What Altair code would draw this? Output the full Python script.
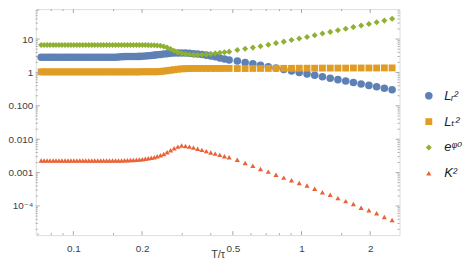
import altair as alt
import pandas as pd

# ---------------- data ----------------
T = [0.0722, 0.0744, 0.0767, 0.0790, 0.0815, 0.0839, 0.0865, 0.0891, 0.0919, 0.0947,
     0.0975, 0.1005, 0.1036, 0.1067, 0.1100, 0.1133, 0.1168, 0.1204, 0.1240, 0.1278,
     0.1317, 0.1357, 0.1399, 0.1441, 0.1485, 0.1531, 0.1577, 0.1625, 0.1675, 0.1726,
     0.1779, 0.1833, 0.1889, 0.1946, 0.2006, 0.2067, 0.2130, 0.2195, 0.2262, 0.2331,
     0.2408, 0.2489, 0.2575, 0.2667, 0.2765, 0.2870, 0.2980, 0.3099, 0.3226, 0.3361,
     0.3506, 0.3660, 0.3825, 0.4001, 0.4184, 0.4383, 0.4594, 0.4816,
     0.523, 0.566, 0.612, 0.661, 0.715, 0.773, 0.836, 0.904, 0.977, 1.057,
     1.142, 1.235, 1.336, 1.444, 1.562, 1.688, 1.825, 1.974, 2.134, 2.307, 2.495]

Lr2 = [2.85, 2.85, 2.85, 2.85, 2.85, 2.85, 2.85, 2.85, 2.85, 2.85,
       2.85, 2.85, 2.85, 2.85, 2.85, 2.85, 2.85, 2.85, 2.85, 2.85,
       2.85, 2.85, 2.85, 2.85, 2.85, 2.85, 2.90, 2.95, 2.98, 3.00,
       3.00, 3.01, 3.02, 3.03, 3.05, 3.10, 3.15, 3.22, 3.30, 3.38,
       3.47, 3.56, 3.65, 3.74, 3.80, 3.84, 3.85, 3.82, 3.75, 3.65,
       3.55, 3.43, 3.30, 3.12, 2.95, 2.72, 2.52, 2.36,
       2.21, 2.00, 1.81, 1.64, 1.49, 1.35, 1.22, 1.10, 1.00, 0.906,
       0.820, 0.743, 0.673, 0.609, 0.551, 0.499, 0.452, 0.410, 0.371, 0.336, 0.304]

Lt2 = [1.04, 1.04, 1.04, 1.04, 1.04, 1.04, 1.04, 1.04, 1.04, 1.04,
       1.04, 1.04, 1.04, 1.04, 1.04, 1.04, 1.04, 1.04, 1.04, 1.04,
       1.04, 1.04, 1.04, 1.04, 1.04, 1.04, 1.04, 1.04, 1.04, 1.04,
       1.04, 1.04, 1.04, 1.04, 1.05, 1.05, 1.05, 1.05, 1.05, 1.05,
       1.07, 1.10, 1.13, 1.17, 1.21, 1.25, 1.28, 1.30, 1.31, 1.32,
       1.32, 1.32, 1.32, 1.32, 1.32, 1.32, 1.32, 1.32,
       1.31, 1.31, 1.32, 1.32, 1.32, 1.33, 1.33, 1.33, 1.34, 1.34,
       1.34, 1.35, 1.35, 1.35, 1.35, 1.36, 1.36, 1.36, 1.36, 1.37, 1.37]

ephi0 = [6.6, 6.6, 6.6, 6.6, 6.6, 6.6, 6.6, 6.6, 6.6, 6.6,
         6.6, 6.6, 6.6, 6.6, 6.6, 6.6, 6.6, 6.6, 6.6, 6.6,
         6.6, 6.6, 6.6, 6.6, 6.6, 6.6, 6.6, 6.6, 6.6, 6.6,
         6.6, 6.6, 6.6, 6.6, 6.6, 6.6, 6.58, 6.55, 6.5, 6.45,
         6.3, 6.0, 5.55, 5.0, 4.45, 4.0, 3.75, 3.55, 3.45, 3.4,
         3.38, 3.4, 3.48, 3.6, 3.75, 3.9, 4.05, 4.2,
         4.7, 5.1, 5.55, 6.12, 6.78, 7.57, 8.38, 9.35, 10.4, 11.6,
         13.1, 14.7, 16.4, 18.4, 20.5, 22.8, 25.4, 28.3, 31.8, 35.7, 40.4]

K2 = [0.0023, 0.0023, 0.0023, 0.0023, 0.0023, 0.0023, 0.0023, 0.0023, 0.0023, 0.0023,
      0.0023, 0.0023, 0.0023, 0.0023, 0.0023, 0.0023, 0.0023, 0.0023, 0.0023, 0.0023,
      0.0023, 0.0023, 0.0023, 0.0023, 0.0023, 0.0023, 0.0023, 0.00232, 0.00234, 0.00236,
      0.00238, 0.0024, 0.00243, 0.00246, 0.0025, 0.0026, 0.0027, 0.0028, 0.0029, 0.0031,
      0.0033, 0.0036, 0.0041, 0.0047, 0.0054, 0.0060, 0.0065, 0.0063, 0.0060, 0.0056,
      0.0052, 0.0048, 0.0044, 0.0040, 0.0037, 0.0034, 0.0031, 0.0029,
      0.00242, 0.00193, 0.00161, 0.00128, 0.00107, 0.000869, 0.000708, 0.000588, 0.000492, 0.000410,
      0.000327, 0.000259, 0.000217, 0.000172, 0.000140, 0.000114, 0.0000892, 0.0000741, 0.0000604,
      0.0000469, 0.0000382]

series_names = ["Lᵣ²", "Lₜ²", "eᵠ⁰", "K²"]
series_values = [Lr2, Lt2, ephi0, K2]
series_colors = ["#5E81B5", "#E19C24", "#8FB032", "#EB6235"]
series_shapes = ["circle", "square", "diamond", "triangle-up"]
series_sizes = [58, 27, 85, 72]

x_major = [0.1, 0.2, 0.5, 1, 2]
x_major_labels = ["0.1", "0.2", "0.5", "1", "2"]
x_minor = [0.07, 0.08, 0.09, 0.15, 0.3, 0.4, 0.6, 0.7, 0.8, 0.9, 1.5]
y_major = [1e-4, 1e-3, 1e-2, 0.1, 1, 10]
y_major_labels = ["10⁻⁴", "0.001", "0.010", "0.100", "1", "10"]

X_DOMAIN = [0.0684, 2.69]
Y_DOMAIN = [1.34e-5, 78.9]
y_minor = [m * 10.0 ** k for k in range(-5, 2) for m in range(2, 10)]
y_minor = [v for v in y_minor if Y_DOMAIN[0] < v < Y_DOMAIN[1]]

# ---------------- build ----------------
rows = []
for name, vals in zip(series_names, series_values):
    for t, v in zip(T, vals):
        rows.append({"T": t, "v": v, "s": name})
df = pd.DataFrame(rows)

W, H = 367, 228
FRAME = "#a8a8a8"
TXT = "#404040"
FONT = "Liberation Sans, DejaVu Sans, Noto Sans"


def label_expr(values, labels):
    expr = "''"
    for val, lab in zip(values, labels):
        expr = f"abs(datum.value - {val!r}) < {val!r} * 1e-6 ? '{lab}' : ({expr})"
    return expr


xscale = alt.Scale(type="log", domain=X_DOMAIN, nice=False)
yscale = alt.Scale(type="log", domain=Y_DOMAIN, nice=False)

legend = alt.Legend(
    title=None, orient="none", legendX=390, legendY=81,
    symbolSize=40, labelFontSize=13, labelFont=FONT, labelFontStyle="italic",
    labelColor="#222222", rowPadding=12, labelOffset=9, padding=0,
    symbolStrokeWidth=0,
)

points = alt.Chart(df).mark_point(filled=True, opacity=1).encode(
    x=alt.X("T:Q", scale=xscale,
            axis=alt.Axis(orient="bottom", values=x_major,
                          labelExpr=label_expr(x_major, x_major_labels),
                          ticks=False, domain=False, grid=False,
                          labelFontSize=10, labelFont=FONT, labelColor=TXT, labelPadding=9,
                          title="T/τ", titleFontSize=11, titleFont=FONT, titleColor=TXT,
                          titleFontWeight="normal", titlePadding=-5)),
    y=alt.Y("v:Q", scale=yscale,
            axis=alt.Axis(orient="left", values=y_major,
                          labelExpr=label_expr(y_major, y_major_labels),
                          ticks=False, domain=False, grid=False,
                          labelFontSize=10, labelFont=FONT, labelColor=TXT, labelPadding=3,
                          title=None)),
    color=alt.Color("s:N", scale=alt.Scale(domain=series_names, range=series_colors), legend=legend),
    shape=alt.Shape("s:N", scale=alt.Scale(domain=series_names, range=series_shapes), legend=legend),
    size=alt.Size("s:N", scale=alt.Scale(domain=series_names, range=series_sizes), legend=None),
)


def yticks(vals, x0, x1):
    return alt.Chart(pd.DataFrame({"v": vals})).mark_rule(color=FRAME, strokeWidth=1).encode(
        y=alt.Y("v:Q", scale=yscale, axis=None), x=alt.value(x0), x2=alt.value(x1))


def xticks(vals, y0, y1):
    return alt.Chart(pd.DataFrame({"T": vals})).mark_rule(color=FRAME, strokeWidth=1).encode(
        x=alt.X("T:Q", scale=xscale, axis=None), y=alt.value(y0), y2=alt.value(y1))


layers = [
    points,
    yticks(y_major, 0, 4), yticks(y_minor, 0, 2),
    yticks(y_major, W, W - 4), yticks(y_minor, W, W - 2),
    xticks(x_major, H, H - 4), xticks(x_minor, H, H - 2),
    xticks(x_major, 0, 4), xticks(x_minor, 0, 2),
]

chart = alt.layer(*layers).resolve_axis(x="independent", y="independent").properties(
    width=W, height=H,
    autosize=alt.AutoSizeParams(type="none"),
    padding={"left": 28, "top": 0, "right": 65, "bottom": 30},
).configure_view(stroke=FRAME, strokeWidth=1).configure(background="white")

chart.save("out.html", embed_options={"renderer": "svg", "actions": False})
